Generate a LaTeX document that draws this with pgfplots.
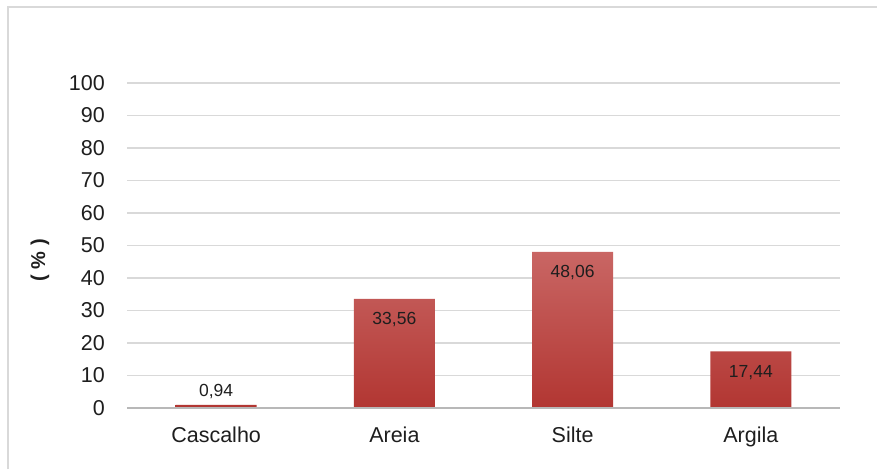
\documentclass[border=0pt]{standalone}
\usepackage{pgfplots}
\pgfplotsset{compat=1.18}
\usepackage{fontspec}
\setmainfont{Liberation Sans}
\definecolor{gridc}{RGB}{217,217,217}
\definecolor{framec}{RGB}{217,217,217}
\definecolor{bartop}{RGB}{201,102,100}
\definecolor{barbot}{RGB}{178,54,50}
\definecolor{txt}{RGB}{30,30,30}
\begin{document}
\begin{tikzpicture}[x=1pt,y=1pt]
\useasboundingbox (0,0) rectangle (877,469);
\draw[framec, line width=2.5pt] (8,0) -- (8,462) -- (877,462);
\begin{axis}[
  at={(127pt,61pt)}, anchor=south west,
  scale only axis, width=713pt, height=325pt,
  xmin=-0.5, xmax=3.5, ymin=0, ymax=100,
  ytick={0,10,...,100},
  xtick={0,1,2,3},
  xticklabels={Cascalho,Areia,Silte,Argila},
  /pgf/number format/assume math mode=true,
  axis line style={draw=none},
  major tick length=0pt,
  ymajorgrids, grid style={gridc, line width=1.5pt},
  ticklabel style={font=\fontsize{21.5}{25}\selectfont, text=txt},
  yticklabel style={inner sep=0pt, xshift=-22pt},
  xticklabel style={inner sep=0pt, yshift=-19pt},
  ylabel={( \% )},
  ylabel style={at={(axis description cs:-0.122,0.455)}, anchor=center, font=\fontsize{20}{24}\selectfont\bfseries, text=txt},
  clip=false,
]
\addplot[ybar, bar width=81pt, draw=none, top color=bartop, bottom color=barbot]
  coordinates {(0,0.94) (1,33.56) (2,48.06) (3,17.44)};
\draw[gridc!85!black, line width=1.8pt] (axis cs:-0.5,0) -- (axis cs:3.5,0);
\addplot[draw=none, mark=none, nodes near coords, point meta=explicit symbolic,
  every node near coord/.append style={anchor=center, inner sep=0pt, font=\fontsize{17.5}{21}\selectfont, text=txt}]
  coordinates {(0,5.0) [0,94] (1,27.1) [33,56] (2,41.6) [48,06] (3,10.9) [17,44]};
\end{axis}
\end{tikzpicture}
\end{document}
